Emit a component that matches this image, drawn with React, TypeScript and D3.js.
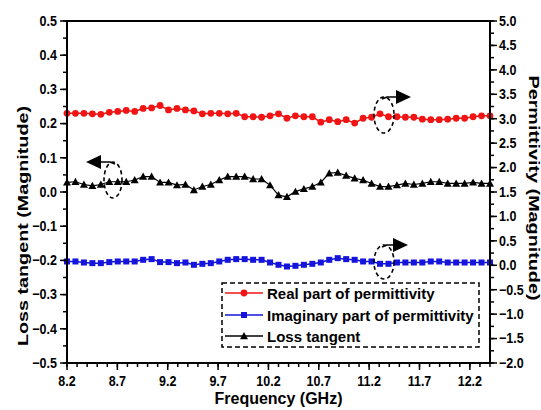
import React from 'react';
import * as d3 from 'd3';

// --- data ---
const freq = [
  8.2, 8.284, 8.368, 8.452, 8.536, 8.62, 8.704, 8.788, 8.872, 8.956,
  9.04, 9.124, 9.208, 9.292, 9.376, 9.46, 9.544, 9.628, 9.712, 9.796,
  9.88, 9.964, 10.048, 10.132, 10.216, 10.3, 10.384, 10.468, 10.552, 10.636,
  10.72, 10.804, 10.888, 10.972, 11.056, 11.14, 11.224, 11.308, 11.392, 11.476,
  11.56, 11.644, 11.728, 11.812, 11.896, 11.98, 12.064, 12.148, 12.232, 12.316, 12.4,
];
const realPerm = [
  3.11, 3.11, 3.11, 3.1, 3.09, 3.13, 3.15, 3.17, 3.15, 3.21,
  3.22, 3.27, 3.18, 3.21, 3.18, 3.16, 3.1, 3.11, 3.11, 3.1,
  3.11, 3.04, 3.04, 3.03, 3.06, 3.1, 3.01, 3.06, 3.04, 3.04,
  2.93, 2.98, 2.94, 2.98, 2.91, 3.01, 3.03, 3.1, 3.04, 3.04,
  3.03, 3.03, 2.99, 2.98, 2.98, 2.99, 3.01, 3.01, 3.04, 3.06, 3.06,
];
const imagPerm = [
  0.078, 0.078, 0.057, 0.044, 0.044, 0.065, 0.078, 0.078, 0.078, 0.112,
  0.126, 0.065, 0.065, 0.044, 0.057, 0.01, 0.03, 0.044, 0.078, 0.112,
  0.126, 0.126, 0.112, 0.112, 0.057, 0.01, -0.025, -0.011, 0.01, 0.03,
  0.057, 0.112, 0.146, 0.126, 0.112, 0.078, 0.078, 0.03, 0.03, 0.057,
  0.057, 0.057, 0.057, 0.078, 0.078, 0.057, 0.057, 0.057, 0.057, 0.057, 0.057,
];
const lossTan = [
  0.028, 0.03, 0.022, 0.018, 0.022, 0.03, 0.03, 0.03, 0.035, 0.045,
  0.045, 0.028, 0.028, 0.02, 0.022, 0.006, 0.016, 0.022, 0.035, 0.045,
  0.045, 0.045, 0.038, 0.038, 0.02, -0.009, -0.014, 0.001, 0.009, 0.016,
  0.028, 0.055, 0.057, 0.048, 0.04, 0.035, 0.025, 0.016, 0.016, 0.02,
  0.025, 0.022, 0.025, 0.03, 0.03, 0.025, 0.025, 0.025, 0.028, 0.025, 0.025,
];
const xTicks = [8.2, 8.7, 9.2, 9.7, 10.2, 10.7, 11.2, 11.7, 12.2];
const leftTicks = [0.5, 0.4, 0.3, 0.2, 0.1, 0.0, -0.1, -0.2, -0.3, -0.4, -0.5];
const rightTicks = [5.0, 4.5, 4.0, 3.5, 3.0, 2.5, 2.0, 1.5, 1.0, 0.5, 0.0, -0.5, -1.0, -1.5, -2.0];
const legendLabels = ['Real part of permittivity', 'Imaginary part of permittivity', 'Loss tangent'];

const RED = '#f01414';
const BLUE = '#1414dc';
const BLACK = '#000';
const FONT = 'Arial, "Liberation Sans", Helvetica, sans-serif';

const W = 541, H = 410;
const L = 67, R = 490, T = 21, B = 363;

const x = d3.scaleLinear().domain([8.2, 12.4]).range([L, R]);
const yL = d3.scaleLinear().domain([-0.5, 0.5]).range([B, T]);
const yR = d3.scaleLinear().domain([-2, 5]).range([B, T]);

const fmt = d3.format('.1f');

const Tri = ({ cx, cy, s = 4, fill }: { cx: number; cy: number; s?: number; fill: string }) => (
  <path d={`M${cx},${cy - s}L${cx + s},${cy + s * 0.8}L${cx - s},${cy + s * 0.8}Z`} fill={fill} />
);

const Label = ({ x: tx, y: ty, anchor, children, size = 12.5 }: any) => (
  <text
    transform={`translate(${tx},${ty}) scale(1,1.15)`}
    textAnchor={anchor}
    dominantBaseline="central"
    fontSize={size}
    fontWeight="bold"
    fontFamily={FONT}
  >
    {children}
  </text>
);

// dashed ellipse plus arrow going from its top
const Callout = ({ cx, cy, rx, ry, dir, tipX }: { cx: number; cy: number; rx: number; ry: number; dir: number; tipX: number }) => {
  const topY = cy - ry;
  const head = 15;
  const baseX = tipX - dir * head;
  return (
    <g>
      <ellipse cx={cx} cy={cy} rx={rx} ry={ry} fill="none" stroke="#000" strokeWidth={1.6} strokeDasharray="4,3" />
      <path d={`M${cx - dir * 2},${topY + 2}L${cx + dir * 3},${topY}L${baseX},${topY}`} fill="none" stroke="#000" strokeWidth={1.6} />
      <path d={`M${tipX},${topY}L${baseX},${topY - 7}L${baseX},${topY + 7}Z`} fill="#000" />
    </g>
  );
};

export default function App() {
  const lineRe = d3.line<number>().x((_, i) => x(freq[i])).y(d => yR(d));
  const lineLt = d3.line<number>().x((_, i) => x(freq[i])).y(d => yL(d));

  const xMinor = d3.range(0, 43).map(i => 8.2 + i * 0.1);
  const lMinor = d3.range(0, 21).map(i => -0.5 + i * 0.05);
  const rMinor = d3.range(0, 29).map(i => -2 + i * 0.25);

  const legX = 222, legY = 283, legW = 257, legH = 64;
  const legRows = [293, 315, 336];

  return (
    <svg width={W} height={H} style={{ position: 'absolute', left: 0, top: 0, background: '#fff' }}>
      <rect width={W} height={H} fill="#fff" />

      {/* data series */}
      <path d={lineRe(realPerm) || ''} fill="none" stroke={RED} strokeWidth={1.5} />
      {realPerm.map((v, i) => (
        <circle key={'r' + i} cx={x(freq[i])} cy={yR(v)} r={3.4} fill={RED} />
      ))}
      <path d={lineRe(imagPerm) || ''} fill="none" stroke={BLUE} strokeWidth={1.5} />
      {imagPerm.map((v, i) => (
        <rect key={'b' + i} x={x(freq[i]) - 3} y={yR(v) - 3} width={6} height={6} fill={BLUE} />
      ))}
      <path d={lineLt(lossTan) || ''} fill="none" stroke={BLACK} strokeWidth={1.2} />
      {lossTan.map((v, i) => (
        <Tri key={'t' + i} cx={x(freq[i])} cy={yL(v)} fill={BLACK} />
      ))}

      {/* callouts */}
      <Callout cx={113} cy={180} rx={9} ry={18} dir={-1} tipX={86} />
      <Callout cx={384} cy={115} rx={10} ry={18} dir={1} tipX={411} />
      <Callout cx={384} cy={262} rx={10} ry={17} dir={1} tipX={408} />

      {/* frame */}
      <g stroke="#000" strokeWidth={2} fill="none">
        <line x1={L} x2={R} y1={T} y2={T} />
        <line x1={L} x2={R + 1} y1={B} y2={B} />
        <line x1={L} x2={L} y1={T - 1} y2={B + 1} />
        <line x1={R} x2={R} y1={T - 1} y2={B + 1} />
      </g>

      {/* bottom axis */}
      <g stroke="#000" strokeWidth={1.5}>
        {xMinor.map((v, i) => (
          <line key={'xm' + i} x1={x(v)} x2={x(v)} y1={B} y2={B + 4} />
        ))}
        {xTicks.map(v => (
          <line key={'xM' + v} x1={x(v)} x2={x(v)} y1={B} y2={B + 7} />
        ))}
      </g>
      {xTicks.map(v => (
        <Label key={'xl' + v} x={x(v)} y={381} anchor="middle">{fmt(v)}</Label>
      ))}
      <text x={(L + R) / 2} y={404} textAnchor="middle" fontSize={16} fontWeight="bold" fontFamily={FONT}>
        Frequency (GHz)
      </text>

      {/* left axis */}
      <g stroke="#000" strokeWidth={1.5}>
        {lMinor.map((v, i) => (
          <line key={'lm' + i} x1={L - 4} x2={L} y1={yL(v)} y2={yL(v)} />
        ))}
        {leftTicks.map(v => (
          <line key={'lM' + v} x1={L - 7} x2={L} y1={yL(v)} y2={yL(v)} />
        ))}
      </g>
      {leftTicks.map(v => (
        <Label key={'ll' + v} x={57} y={yL(v)} anchor="end">{fmt(v)}</Label>
      ))}
      <text
        transform={`translate(22,${226}) rotate(-90)`}
        textAnchor="middle"
        dominantBaseline="central"
        fontSize={15}
        fontWeight="bold"
        fontFamily={FONT}
        textLength={240}
        lengthAdjust="spacingAndGlyphs"
      >
        Loss tangent (Magnitude)
      </text>

      {/* right axis */}
      <g stroke="#000" strokeWidth={1.5}>
        {rMinor.map((v, i) => (
          <line key={'rm' + i} x1={R} x2={R + 4} y1={yR(v)} y2={yR(v)} />
        ))}
        {rightTicks.map(v => (
          <line key={'rM' + v} x1={R} x2={R + 7} y1={yR(v)} y2={yR(v)} />
        ))}
      </g>
      {rightTicks.map(v => (
        <Label key={'rl' + v} x={499} y={yR(v)} anchor="start">{fmt(v)}</Label>
      ))}
      <text
        transform={`translate(534,${188}) rotate(90)`}
        textAnchor="middle"
        dominantBaseline="central"
        fontSize={14}
        fontWeight="bold"
        fontFamily={FONT}
        textLength={225}
        lengthAdjust="spacingAndGlyphs"
      >
        Permittivity (Magnitude)
      </text>

      {/* legend */}
      <rect x={legX} y={legY} width={legW} height={legH} fill="#fff" stroke="#000" strokeWidth={1.5} strokeDasharray="5,3" />
      {legRows.map((ry, i) => {
        const col = [RED, BLUE, BLACK][i];
        return (
          <g key={'lg' + i}>
            <line x1={225} x2={263} y1={ry} y2={ry} stroke={col} strokeWidth={1.5} />
            {i === 0 && <circle cx={244} cy={ry} r={3.4} fill={col} />}
            {i === 1 && <rect x={241} y={ry - 3} width={6} height={6} fill={col} />}
            {i === 2 && <Tri cx={244} cy={ry} fill={col} />}
            <text x={267} y={ry} dominantBaseline="central" fontSize={15} fontWeight="bold" fontFamily={FONT}>
              {legendLabels[i]}
            </text>
          </g>
        );
      })}
    </svg>
  );
}
